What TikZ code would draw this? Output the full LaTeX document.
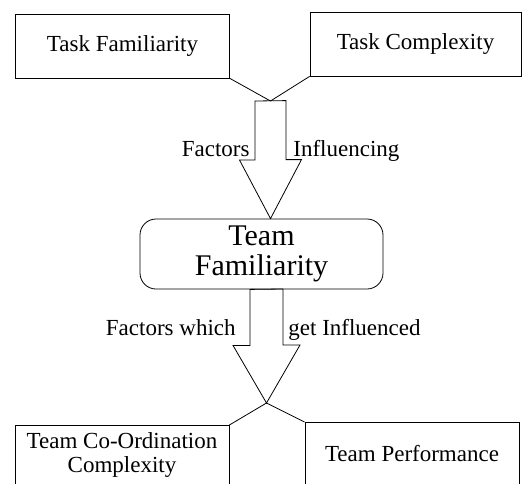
\documentclass[tikz,border=0pt]{standalone}
\usepackage{fontspec}
\setmainfont{Liberation Serif}
\usetikzlibrary{positioning}
\tikzset{
box1/.style={draw=black, rectangle, minimum width=214pt, minimum height=64pt, font=\fontsize{23}{26}\selectfont},
box2/.style={draw=black, rectangle, rounded corners=16pt, minimum width=243pt, minimum height=70pt, align=center, font=\fontsize{30}{30}\selectfont},
box3/.style={box1, align=center, anchor=north, font=\fontsize{23}{24}\selectfont},
lbl/.style={font=\fontsize{23}{26}\selectfont, inner sep=0pt},
}

\begin{document}
\begin{tikzpicture}[x=1pt,y=-1pt,line width=0.8pt]
\clip (0,0) rectangle (528,483);
\node[box1] (taskfam) at (122.5,46) {Task Familiarity};
\node[box1, minimum width=211pt] (taskcom) at (415.5,44) {Task Complexity};
\node[box2] (teamfam) at (261.5,254) {Team\\Familiarity};
\node[box3, minimum height=60pt] (teamcoord) at (122,425) {Team Co-Ordination\\Complexity};
\node[box3, minimum height=62pt] (teamperf) at (412,422) {Team Performance};

\coordinate (j1) at (270.5,101);
\coordinate (j2) at (266.5,403);

\draw (taskfam.south east) -- (j1) -- (taskcom.south west);
\draw (teamcoord.north east) -- (j2) -- (teamperf.north west);

% block arrows
\draw (j1) ++(-15.5,0) -- ++(0,59) -- ++(-15.5,0) -- (teamfam.north -| j1) -- ++(31,-59) -- ++(-15.5,0) -- ++(0,-59) -- cycle;
\draw (teamfam.south -| j2) ++(-16.5,0) -- ++(0,56) -- ++(-17,0) -- (j2) -- ++(33.5,-58) -- ++(-17,0) -- ++(0,-56) -- cycle;

\node[lbl, anchor=base east] (fac1) at (250,156) {Factors};
\node[lbl, anchor=base west] (infl1) at (293,156) {Influencing};
\node[lbl, anchor=base east] (fac2) at (236,335) {Factors which};
\node[lbl, anchor=base west] (infl2) at (288,335) {get Influenced};
\end{tikzpicture}
\end{document}
